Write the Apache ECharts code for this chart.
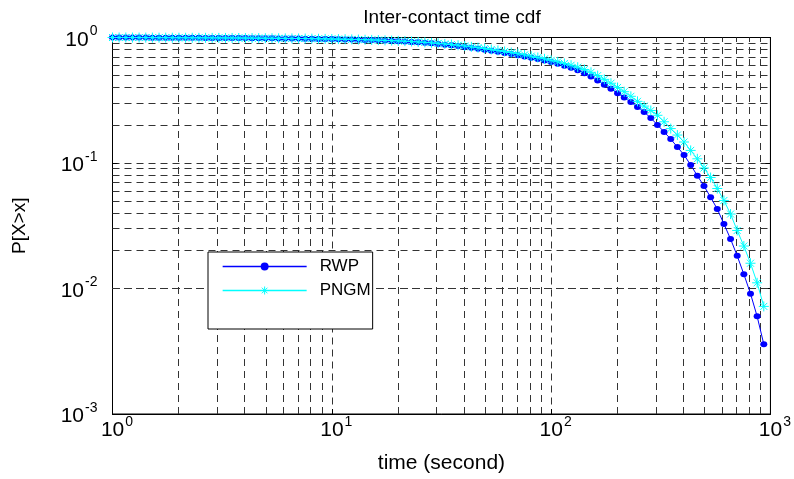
<!DOCTYPE html>
<html>
<head>
<meta charset="utf-8">
<script src="https://cdn.jsdelivr.net/npm/echarts@6/dist/echarts.min.js"></script>
<style>
  html, body { margin: 0; padding: 0; background: #fff; }
  #chart { width: 794px; height: 479px; }
</style>
</head>
<body>
<div id="chart"></div>
<script>
// time samples (seconds), log spaced 1..1000
const times = [
  1.000, 1.072, 1.150, 1.233, 1.322, 1.418, 1.520, 1.630, 1.748, 1.874,
  2.009, 2.154, 2.310, 2.477, 2.656, 2.848, 3.054, 3.275, 3.511, 3.765,
  4.037, 4.329, 4.642, 4.977, 5.337, 5.722, 6.136, 6.579, 7.055, 7.565,
  8.111, 8.697, 9.326, 10.00, 10.72, 11.50, 12.33, 13.22, 14.18, 15.20,
  16.30, 17.48, 18.74, 20.09, 21.54, 23.10, 24.77, 26.56, 28.48, 30.54,
  32.75, 35.11, 37.65, 40.37, 43.29, 46.42, 49.77, 53.37, 57.22, 61.36,
  65.79, 70.55, 75.65, 81.11, 86.97, 93.26, 100.0, 107.2, 115.0, 123.3,
  132.2, 141.8, 152.0, 163.0, 174.8, 187.4, 200.9, 215.4, 231.0, 247.7,
  265.6, 284.8, 305.4, 327.5, 351.1, 376.5, 403.7, 432.9, 464.2, 497.7,
  533.7, 572.2, 613.6, 657.9, 705.5, 756.5, 811.1, 869.7, 932.6
];
// P[X>x] for RWP
const rwp = [
  1.000, 1.000, 0.999, 0.999, 0.998, 0.998, 0.997, 0.997, 0.996, 0.996,
  0.995, 0.995, 0.994, 0.994, 0.993, 0.993, 0.992, 0.991, 0.991, 0.990,
  0.989, 0.988, 0.987, 0.986, 0.985, 0.984, 0.983, 0.982, 0.980, 0.979,
  0.977, 0.975, 0.973, 0.971, 0.969, 0.966, 0.963, 0.960, 0.957, 0.953,
  0.949, 0.945, 0.940, 0.935, 0.929, 0.922, 0.915, 0.907, 0.898, 0.888,
  0.877, 0.866, 0.854, 0.841, 0.828, 0.814, 0.800, 0.785, 0.769, 0.753,
  0.740, 0.723, 0.707, 0.690, 0.673, 0.656, 0.637, 0.617, 0.596, 0.573,
  0.548, 0.520, 0.490, 0.455, 0.420, 0.390, 0.360, 0.333, 0.306, 0.279,
  0.255, 0.228, 0.201, 0.177, 0.155, 0.134, 0.116, 0.0964, 0.0792, 0.0656,
  0.0533, 0.0430, 0.0327, 0.0248, 0.0182, 0.0130, 0.0091, 0.0060, 0.0036
];
// P[X>x] for PNGM
const pngm = [
  1.000, 1.000, 1.000, 0.999, 0.999, 0.998, 0.998, 0.997, 0.997, 0.996,
  0.996, 0.995, 0.995, 0.994, 0.994, 0.993, 0.993, 0.992, 0.992, 0.991,
  0.990, 0.989, 0.988, 0.987, 0.986, 0.985, 0.984, 0.983, 0.982, 0.981,
  0.979, 0.977, 0.975, 0.973, 0.971, 0.969, 0.966, 0.963, 0.960, 0.957,
  0.953, 0.949, 0.945, 0.940, 0.935, 0.929, 0.922, 0.915, 0.907, 0.899,
  0.889, 0.879, 0.868, 0.856, 0.843, 0.830, 0.817, 0.803, 0.789, 0.774,
  0.759, 0.743, 0.727, 0.710, 0.693, 0.676, 0.658, 0.640, 0.621, 0.601,
  0.580, 0.556, 0.528, 0.497, 0.464, 0.432, 0.400, 0.370, 0.340, 0.310,
  0.284, 0.262, 0.240, 0.213, 0.188, 0.167, 0.147, 0.126, 0.108, 0.0912,
  0.0766, 0.0626, 0.0503, 0.0392, 0.0290, 0.0218, 0.0159, 0.0111, 0.0072
];
const xDecades = [0, 1, 2];
const yDecades = [-3, -2, -1];

const font = "'Liberation Sans', Arial, sans-serif";
const star = "path://M5,0L5,10M0,5L10,5M1.5,1.5L8.5,8.5M1.5,8.5L8.5,1.5";

// minor grid lines at 2..9 x 10^k
const minorX = [];
xDecades.forEach(k => { for (let m = 2; m <= 9; m++) minorX.push({ xAxis: m * Math.pow(10, k) }); });
const minorY = [];
yDecades.forEach(k => { for (let m = 2; m <= 9; m++) minorY.push({ yAxis: +(m * Math.pow(10, k)).toPrecision(3) }); });

const expLabel = (v) => {
  const e = Math.round(Math.log10(v));
  return '{b|10}{s|' + e + '}';
};
const rich = {
  b: { fontSize: 21, fontFamily: font, color: '#000', verticalAlign: 'bottom' },
  s: { fontSize: 14, fontFamily: font, color: '#000', verticalAlign: 'bottom', padding: [0, 0, 12, 1] }
};
const richX = {
  b: { fontSize: 21, fontFamily: font, color: '#000', verticalAlign: 'bottom', padding: [0, 0, 0, 9] },
  s: rich.s
};
const gridLine = { color: '#333', type: [7, 5], width: 1 };
const boxAxis = {
  axisLine: { lineStyle: { color: '#000' } },
  axisTick: { inside: true, length: 5, lineStyle: { color: '#000' } },
  axisLabel: { show: false },
  splitLine: { show: false }
};

const mycharts = echarts.init(document.getElementById('chart'));
const options = {
  animation: false,
  backgroundColor: '#fff',
  title: {
    text: 'Inter-contact time cdf',
    left: 447,
    top: 3,
    textAlign: 'center',
    textStyle: { fontFamily: font, fontSize: 19, fontWeight: 'normal', color: '#000' }
  },
  grid: {
    left: 112.5, right: 20, top: 37.5, bottom: 65,
    show: true, borderColor: '#000', borderWidth: 1
  },
  legend: {
    orient: 'vertical',
    left: 208, top: 252,
    padding: [6, 2, 30, 14],
    itemGap: 7,
    itemWidth: 84,
    itemHeight: 10,
    backgroundColor: '#fff',
    borderColor: '#000',
    borderWidth: 1,
    lineStyle: { width: 1.3 },
    textStyle: { fontFamily: font, fontSize: 17, color: '#000', padding: [0, 0, 0, 8] },
    data: [
      { name: 'RWP' },
      { name: 'PNGM', itemStyle: { color: '#00ffff', borderColor: '#00ffff', borderWidth: 1 } }
    ]
  },
  xAxis: [
    {
      type: 'log',
      logBase: 10,
      min: 1,
      max: 1000,
      name: 'time (second)',
      nameLocation: 'middle',
      nameGap: 39,
      nameTextStyle: { fontFamily: font, fontSize: 21, color: '#000' },
      axisLine: { lineStyle: { color: '#000' } },
      axisTick: { inside: true, length: 5, lineStyle: { color: '#000' } },
      axisLabel: { formatter: expLabel, rich: richX, margin: 1 },
      splitLine: { show: true, lineStyle: gridLine }
    },
    Object.assign({ type: 'log', logBase: 10, min: 1, max: 1000, position: 'top' }, boxAxis)
  ],
  yAxis: [
    {
      type: 'log',
      logBase: 10,
      min: 0.001,
      max: 1,
      name: 'P[X>x]',
      nameLocation: 'middle',
      nameGap: 83,
      nameTextStyle: { fontFamily: font, fontSize: 19, color: '#000' },
      axisLine: { lineStyle: { color: '#000' } },
      axisTick: { inside: true, length: 5, lineStyle: { color: '#000' } },
      axisLabel: { formatter: expLabel, rich: rich, margin: 15 },
      splitLine: { show: true, lineStyle: gridLine }
    },
    Object.assign({ type: 'log', logBase: 10, min: 0.001, max: 1, position: 'right' }, boxAxis)
  ],
  series: [
    {
      name: 'RWP',
      type: 'line',
      data: times.map((t, i) => [t, rwp[i]]),
      symbol: 'circle',
      symbolSize: [7, 6],
      showAllSymbol: true,
      clip: false,
      z: 3,
      lineStyle: { color: '#0000ff', width: 1 },
      itemStyle: { color: '#0000ff' },
      markLine: {
        silent: true,
        symbol: 'none',
        label: { show: false },
        lineStyle: gridLine,
        data: minorX.concat(minorY),
        z: 1
      }
    },
    {
      name: 'PNGM',
      type: 'line',
      data: times.map((t, i) => [t, pngm[i]]),
      symbol: star,
      symbolSize: 10,
      showAllSymbol: true,
      clip: false,
      z: 4,
      lineStyle: { color: '#00ffff', width: 1 },
      itemStyle: { color: '#00ffff', borderColor: '#00ffff', borderWidth: 1 }
    }
  ]
};
mycharts.setOption(options);
</script>
</body>
</html>
